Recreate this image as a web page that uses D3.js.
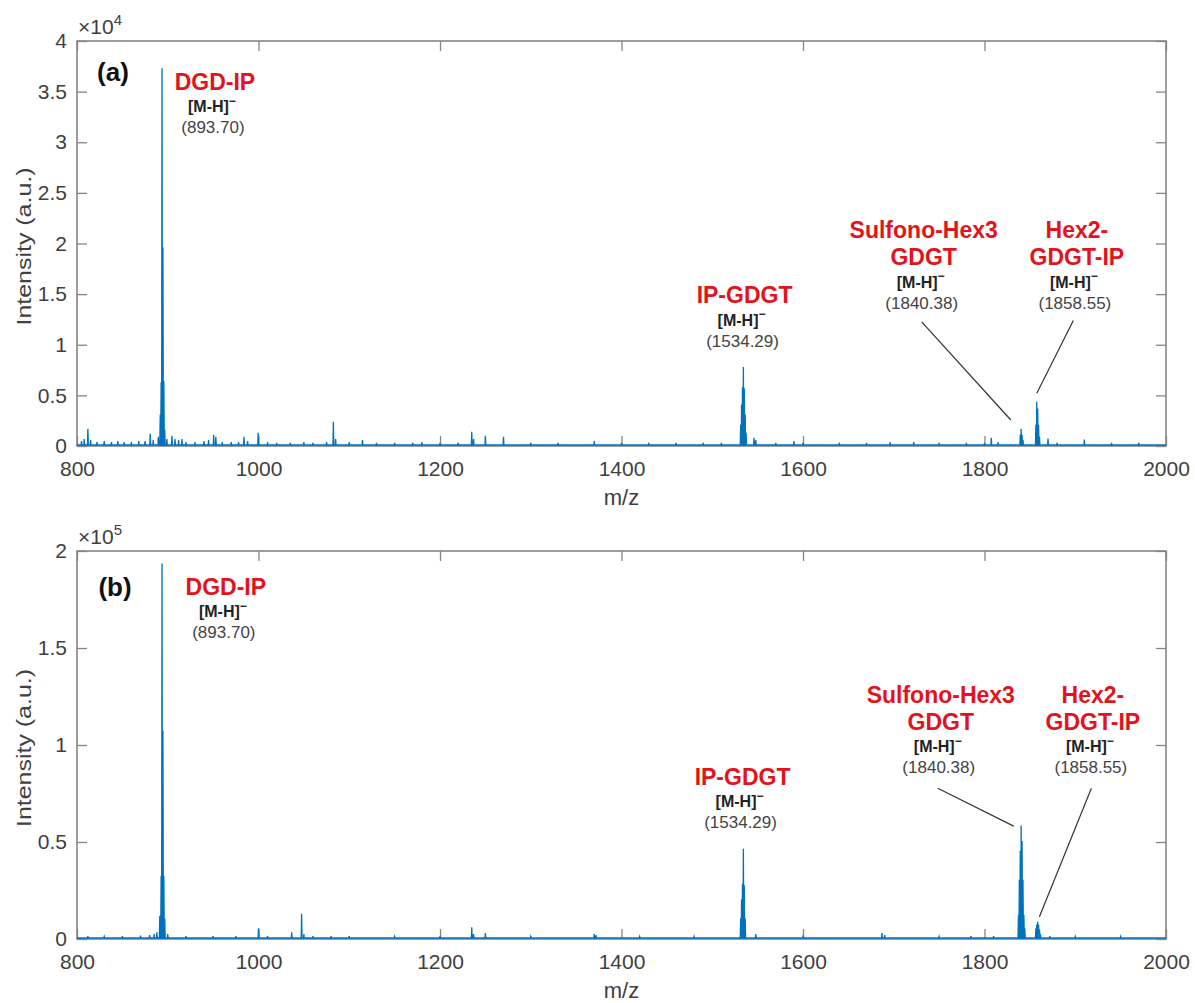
<!DOCTYPE html>
<html>
<head>
<meta charset="utf-8">
<script src="https://cdn.jsdelivr.net/npm/d3@7"></script>
<style>
  body { margin: 0; background: #fff; }
  svg text { font-family: Arial, "Liberation Sans", Helvetica, sans-serif; }
</style>
</head>
<body>
<div id="chart"></div>
<script>
// x axis (shared)
var mzDomain = [800, 2000];
var xTicks = [800, 1000, 1200, 1400, 1600, 1800, 2000];

// panel (a): peak positions (m/z) and intensities (x 10^4)
var mzA = [805, 808, 812, 815, 822, 830, 838, 845, 852, 860, 868, 875, 880.7, 884, 889.6,
  891.7, 892.7, 893.7, 894.7, 895.7, 896.7, 899, 904.6, 908, 912, 915.7, 920, 930, 940, 945,
  950.6, 953, 960, 970, 978, 984, 988, 999.6, 1010, 1020, 1035, 1050, 1060, 1075, 1082.5, 1085,
  1100, 1114.6, 1130, 1150, 1170, 1180, 1200, 1220, 1235, 1237, 1250, 1270, 1300, 1330, 1370,
  1400, 1430, 1460, 1490, 1510, 1531.3, 1532.3, 1533.3, 1534.3, 1535.3, 1536.3, 1537.3, 1546, 1548,
  1570, 1590, 1600, 1640, 1670, 1696, 1722, 1750, 1780, 1800, 1807.5, 1815, 1839.4, 1840.4,
  1841.4, 1842.4, 1856.6, 1857.6, 1858.6, 1859.6, 1860.6, 1870, 1880, 1910, 1940, 1970];
var intA = [0.04, 0.06, 0.16, 0.05, 0.03, 0.04, 0.03, 0.04, 0.03, 0.03, 0.04, 0.04, 0.11, 0.05, 0.08,
  0.3, 0.62, 3.72, 1.95, 0.63, 0.15, 0.06, 0.09, 0.06, 0.05, 0.06, 0.03, 0.03, 0.04, 0.05,
  0.1, 0.08, 0.03, 0.03, 0.03, 0.08, 0.04, 0.12, 0.03, 0.02, 0.02, 0.03, 0.02, 0.03, 0.23, 0.06,
  0.03, 0.05, 0.02, 0.02, 0.02, 0.03, 0.02, 0.02, 0.13, 0.06, 0.09, 0.08, 0.02, 0.02, 0.04,
  0.02, 0.02, 0.02, 0.02, 0.02, 0.2, 0.4, 0.57, 0.77, 0.56, 0.3, 0.12, 0.07, 0.05,
  0.02, 0.04, 0.02, 0.02, 0.02, 0.03, 0.03, 0.02, 0.02, 0.02, 0.07, 0.03, 0.1, 0.16,
  0.1, 0.05, 0.2, 0.43, 0.36, 0.2, 0.08, 0.065, 0.02, 0.055, 0.02, 0.02];

// panel (b): peak positions (m/z) and intensities (x 10^5)
var mzB = [812, 830, 850, 870, 880, 885, 888, 891.2, 892.7, 893.7, 894.7, 895.7, 896.7, 900, 920,
  950, 975, 1000, 1010, 1036.6, 1047.5, 1050, 1060, 1080, 1100, 1150, 1200, 1235, 1237, 1250, 1300,
  1370, 1372, 1420, 1480, 1531.3, 1532.3, 1533.3, 1534.3, 1535.3, 1536.3, 1548, 1600, 1687, 1690,
  1750, 1785, 1810, 1837.4, 1838.4, 1839.4, 1840.4, 1841.4, 1842.4, 1843.4, 1844.4, 1856.6, 1857.6,
  1858.6, 1859.6, 1860.6, 1861.6, 1872, 1900, 1950];
var intB = [0.01, 0.008, 0.01, 0.012, 0.015, 0.02, 0.03, 0.115, 0.32, 1.93, 1.07, 0.32, 0.1, 0.02, 0.01,
  0.01, 0.01, 0.05, 0.01, 0.03, 0.125, 0.02, 0.01, 0.01, 0.01, 0.008, 0.01, 0.055, 0.02, 0.025, 0.008,
  0.02, 0.015, 0.008, 0.008, 0.1, 0.2, 0.28, 0.46, 0.27, 0.1, 0.02, 0.008, 0.025, 0.015,
  0.008, 0.01, 0.01, 0.12, 0.3, 0.45, 0.58, 0.5, 0.3, 0.12, 0.05, 0.05, 0.07,
  0.084, 0.07, 0.045, 0.02, 0.01, 0.008, 0.008];

// annotations
var compoundNames = [["DGD-IP"], ["IP-GDGT"], ["Sulfono-Hex3", "GDGT"], ["Hex2-", "GDGT-IP"]];
var ionLabel = "[M-H]";
var massLabels = ["(893.70)", "(1534.29)", "(1840.38)", "(1858.55)"];
var labelMzA = [952, 1535.6, 1733, 1901.8];
var labelIntA = [3.6, 1.49, 2.13, 2.13];
var labelMzB = [964, 1533.4, 1751.8, 1919.4];
var labelIntB = [1.816, 0.837, 1.258, 1.258];
// leader lines [mz1, int1, mz2, int2]
var leaderA = [[1730.8, 1.225, 1829, 0.257], [1897.9, 1.24, 1857.6, 0.52]];
var leaderB = [[1748.5, 0.777, 1832.2, 0.582], [1917.8, 0.777, 1860.5, 0.115]];

var panels = [
  {tag: "(a)", mz: mzA, inten: intA, yMax: 4, yTicks: d3.range(0, 4.01, 0.5), exp: "4",
   top: 41, bottom: 446, labMz: labelMzA, labInt: labelIntA, leaders: leaderA},
  {tag: "(b)", mz: mzB, inten: intB, yMax: 2, yTicks: d3.range(0, 2.01, 0.5), exp: "5",
   top: 551, bottom: 939, labMz: labelMzB, labInt: labelIntB, leaders: leaderB}
];

var W = 1195, H = 1003, left = 77, right = 1166;
var axisCol = "#858585", textCol = "#404040", lineCol = "#0072BD", red = "#e3131b";

var svg = d3.select("#chart").append("svg")
  .attr("width", W).attr("height", H)
  .style("background", "#fff");

panels.forEach(function(p) {
  var x = d3.scaleLinear().domain(mzDomain).range([left, right]);
  var y = d3.scaleLinear().domain([0, p.yMax]).range([p.bottom, p.top]);
  var g = svg.append("g");

  // axes with inward ticks on all four sides
  var fmt = d3.format("~g");
  g.append("g").attr("transform", `translate(0,${p.bottom})`)
    .call(d3.axisBottom(x).tickValues(xTicks).tickSize(-10).tickPadding(15)
      .tickFormat(d3.format("d")).tickSizeOuter(0));
  g.append("g").attr("transform", `translate(0,${p.top})`)
    .call(d3.axisTop(x).tickValues(xTicks).tickSize(-10).tickFormat("").tickSizeOuter(0));
  g.append("g").attr("transform", `translate(${left},0)`)
    .call(d3.axisLeft(y).tickValues(p.yTicks).tickSize(-10).tickPadding(10).tickFormat(fmt).tickSizeOuter(0));
  g.append("g").attr("transform", `translate(${right},0)`)
    .call(d3.axisRight(y).tickValues(p.yTicks).tickSize(-10).tickFormat("").tickSizeOuter(0));
  g.selectAll(".domain").remove();
  g.selectAll(".tick line").attr("stroke", axisCol).attr("stroke-width", 1.3);
  g.selectAll(".tick text").attr("fill", textCol).style("font-size", "21px");

  g.append("rect")
    .attr("x", left).attr("y", p.top)
    .attr("width", right - left).attr("height", p.bottom - p.top)
    .attr("fill", "none").attr("stroke", axisCol).attr("stroke-width", 1.6);

  // spectrum as narrow peaks on a zero baseline
  var pts = [[mzDomain[0], 0]];
  d3.range(p.mz.length).map(i => [p.mz[i], p.inten[i]])
    .sort((a, b) => a[0] - b[0])
    .forEach(function(d) {
      pts.push([d[0] - 0.45, 0], [d[0], d[1]], [d[0] + 0.45, 0]);
    });
  pts.push([mzDomain[1], 0]);

  g.append("path")
    .datum(pts)
    .attr("fill", lineCol)
    .attr("d", d3.area().x(d => x(d[0])).y0(y(0)).y1(d => y(d[1])));
  g.append("path")
    .datum(pts)
    .attr("fill", "none")
    .attr("stroke", lineCol)
    .attr("stroke-width", 1.3)
    .attr("d", d3.line().x(d => x(d[0])).y(d => y(d[1]) - 1));

  // exponent
  var ex = g.append("text").attr("x", 78).attr("y", p.top - 7)
    .attr("fill", textCol).style("font-size", "21px").text("\u00d710");
  ex.append("tspan").attr("dy", -9).style("font-size", "15px").text(p.exp);

  // axis titles
  g.append("text")
    .attr("transform", `translate(23,${(p.top + p.bottom) / 2 + 3}) rotate(-90)`)
    .attr("text-anchor", "middle").attr("dominant-baseline", "central")
    .attr("fill", textCol).style("font-size", "21px")
    .attr("textLength", 158).attr("lengthAdjust", "spacingAndGlyphs")
    .text("Intensity (a.u.)");
  g.append("text")
    .attr("x", (left + right) / 2).attr("y", p.bottom + 51)
    .attr("text-anchor", "middle").attr("dominant-baseline", "central")
    .attr("fill", textCol).style("font-size", "22px")
    .text("m/z");

  // panel tag
  g.append("text")
    .attr("x", 113 + (p.tag == "(b)" ? 2 : 0)).attr("y", p.top + (p.tag == "(b)" ? 36 : 31))
    .attr("text-anchor", "middle").attr("dominant-baseline", "central")
    .attr("fill", "#111").style("font-size", "26px").style("font-weight", "bold")
    .text(p.tag);

  // leader lines
  g.selectAll(".leader").data(p.leaders).join("line")
    .attr("class", "leader")
    .attr("x1", d => x(d[0])).attr("y1", d => y(d[1]))
    .attr("x2", d => x(d[2])).attr("y2", d => y(d[3]))
    .attr("stroke", "#333").attr("stroke-width", 1.2);

  // peak labels
  compoundNames.forEach(function(names, i) {
    var cx = x(p.labMz[i]), cy = y(p.labInt[i]);
    var lab = g.append("g").attr("transform", `translate(${cx},${cy})`);
    names.forEach(function(n, k) {
      lab.append("text").attr("y", k * 27)
        .attr("text-anchor", "middle").attr("dominant-baseline", "central")
        .attr("fill", red).style("font-size", "23px").style("font-weight", "bold")
        .text(n);
    });
    var yl = (names.length - 1) * 27;
    var ion = lab.append("text").attr("x", -3).attr("y", yl + 25)
      .attr("text-anchor", "middle").attr("dominant-baseline", "central")
      .attr("fill", "#222").style("font-size", "16px").style("font-weight", "bold")
      .text(ionLabel);
    ion.append("tspan").attr("dy", -6).style("font-size", "12px").text("\u2212");
    lab.append("text").attr("x", -2).attr("y", yl + 46)
      .attr("text-anchor", "middle").attr("dominant-baseline", "central")
      .attr("fill", "#444").style("font-size", "17px")
      .text(massLabels[i]);
  });
});
</script>
</body>
</html>
